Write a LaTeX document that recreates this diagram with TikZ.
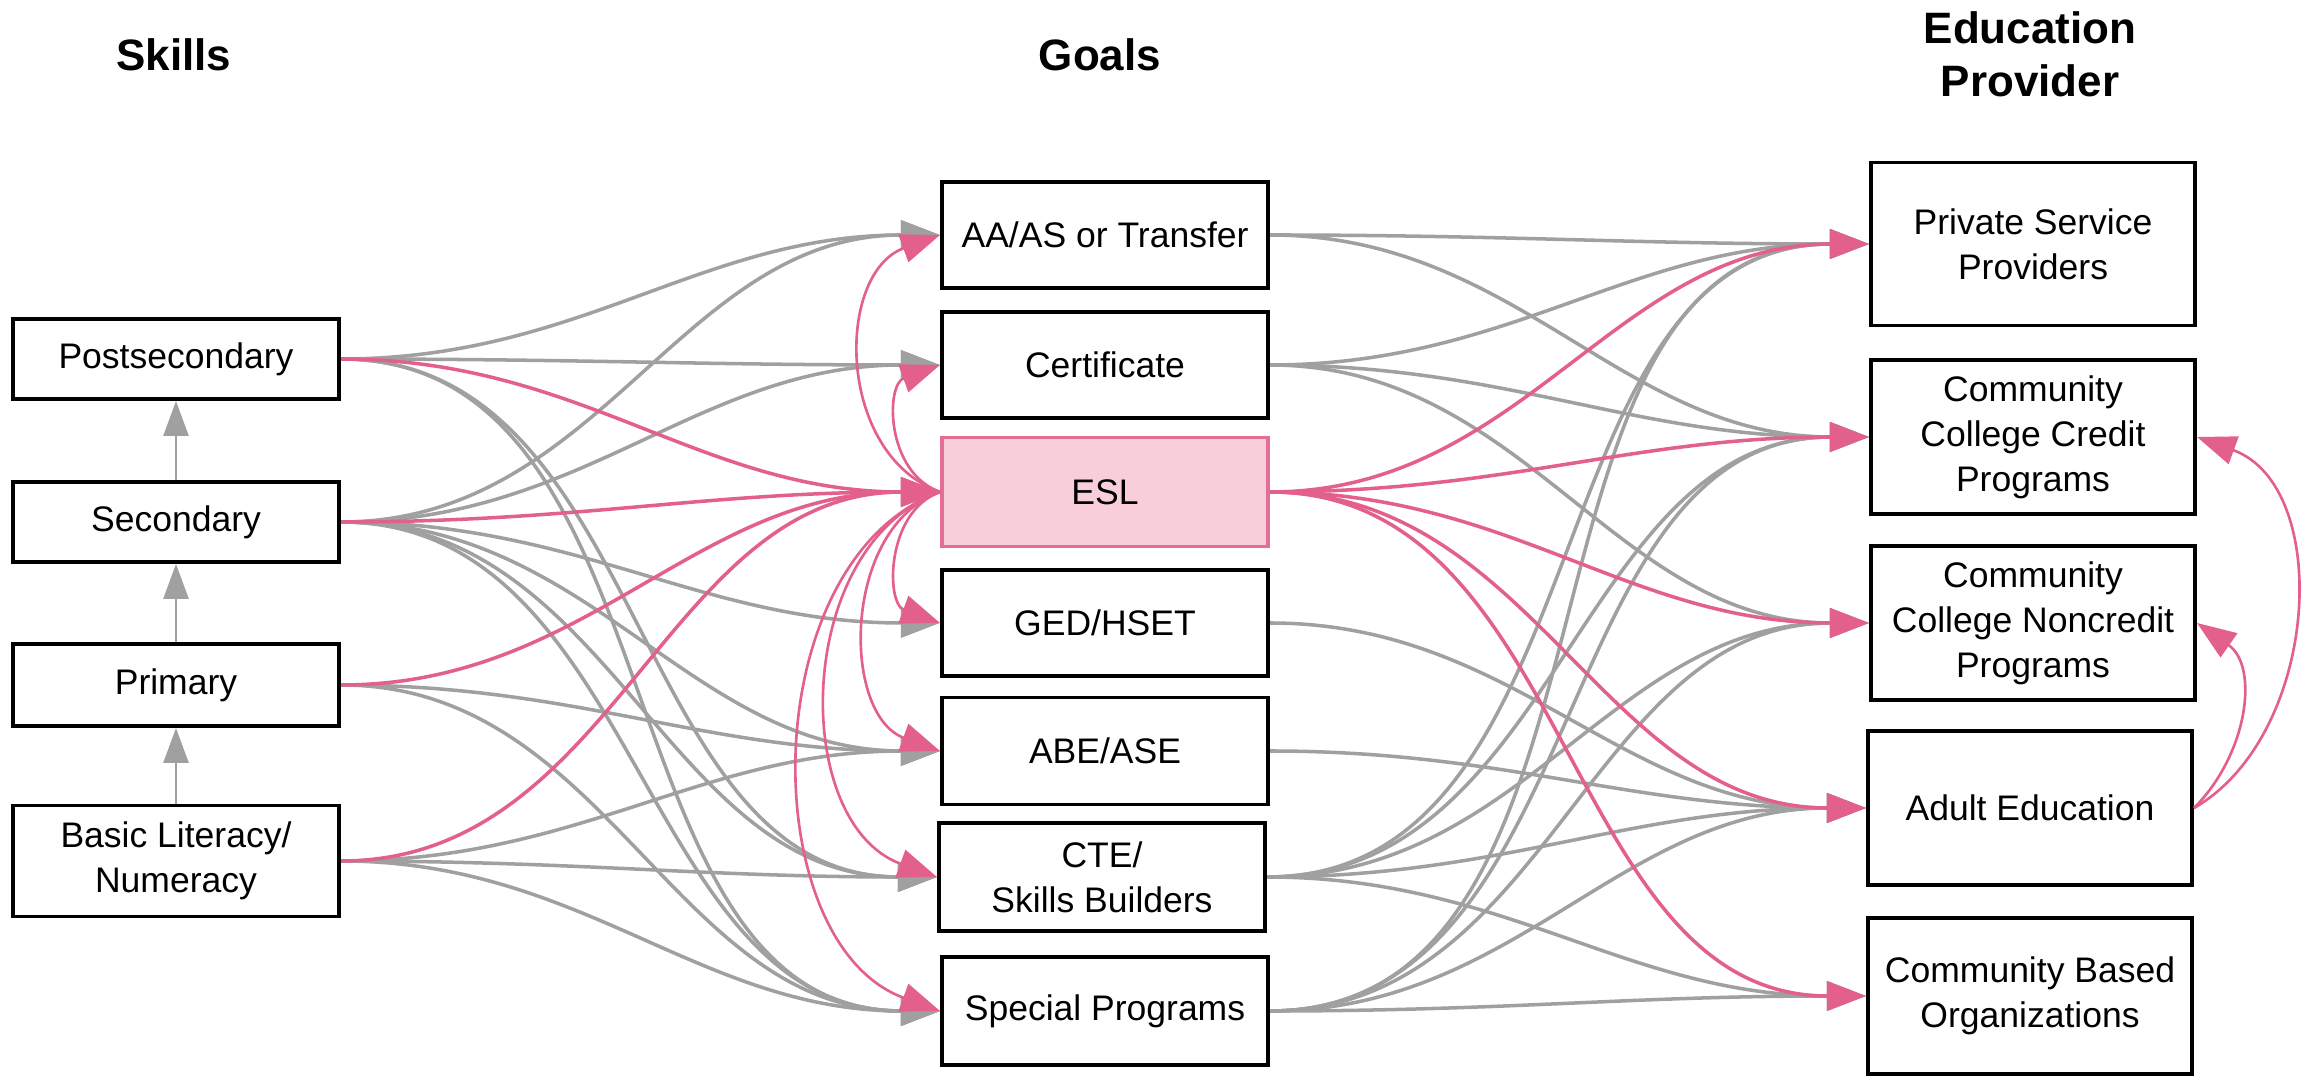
\documentclass[tikz,border=0pt]{standalone}
\usepackage{fontspec}
\setmainfont{Liberation Sans}
\usetikzlibrary{arrows.meta}
\definecolor{lgray}{RGB}{160,160,160}
\definecolor{pinkc}{RGB}{226,96,139}
\definecolor{eslfill}{RGB}{249,206,219}
\definecolor{eslborder}{RGB}{228,110,148}
\begin{document}
\begin{tikzpicture}[x=0.01cm,y=-0.01cm,
  box/.style={draw=black,line width=1.1pt,fill=white,minimum width=3.26cm,inner sep=0pt,align=center,font=\fontsize{10.1}{12.8}\selectfont},
  hdr/.style={font=\fontsize{12.5}{15}\selectfont\bfseries,align=center},
  tipst/.style={-{Triangle[length=3.9mm,width=2.9mm]}},
  gline/.style={draw=lgray,line width=1pt,tipst},
  pline/.style={draw=pinkc,line width=1pt,tipst},
  parc/.style={draw=pinkc,line width=0.75pt,tipst},
  vline/.style={draw=lgray,line width=0.75pt,-{Triangle[length=3.5mm,width=2.5mm]}}]

\useasboundingbox (0,0) rectangle (2318,1077);

% headers
\node[hdr] (hskills) at (174,55) {Skills};
\node[hdr] (hgoals) at (1100,55) {Goals};
\node[hdr] (hprov) at (2030,54) {Education\\Provider};

% skills
\node[box,minimum height=0.80cm] (post) at (176,359) {Postsecondary};
\node[box,minimum height=0.80cm] (sec) at (176,522) {Secondary};
\node[box,minimum height=0.82cm] (prim) at (176,685) {Primary};
\node[box,minimum height=1.11cm] (basic) at (176,861) {Basic Literacy/\\Numeracy};

% goals
\node[box,minimum height=1.06cm] (aa) at (1105,235) {AA/AS or Transfer};
\node[box,minimum height=1.06cm] (cert) at (1105,365) {Certificate};
\node[box,minimum height=1.09cm,draw=eslborder,fill=eslfill] (esl) at (1105,492) {ESL};
\node[box,minimum height=1.06cm] (ged) at (1105,623) {GED/HSET};
\node[box,minimum height=1.07cm] (abe) at (1105,751) {ABE/ASE};
\node[box,minimum height=1.08cm] (cte) at (1102,877) {CTE/\\Skills Builders};
\node[box,minimum height=1.08cm] (spec) at (1105,1011) {Special Programs};

% providers
\node[box,minimum width=3.24cm,minimum height=1.63cm] (priv) at (2033,244) {Private Service\\Providers};
\node[box,minimum width=3.24cm,minimum height=1.54cm] (ccc) at (2033,437) {Community\\College Credit\\Programs};
\node[box,minimum width=3.24cm,minimum height=1.54cm] (ccn) at (2033,623) {Community\\College Noncredit\\Programs};
\node[box,minimum width=3.24cm,minimum height=1.54cm] (adult) at (2030,808) {Adult Education};
\node[box,minimum width=3.24cm,minimum height=1.56cm] (cbo) at (2030,996) {Community Based\\Organizations};

% vertical skill arrows
\draw[vline] (sec.north) -- (post.south);
\draw[vline] (prim.north) -- (sec.south);
\draw[vline] (basic.north) -- (prim.south);

% gray: skills -> goals
\draw[gline] (post.east) to[out=0,in=180] (aa.west);
\draw[gline] (post.east) to[out=0,in=180] (cert.west);
\draw[gline] (post.east) to[out=0,in=180] (cte.west);
\draw[gline] (post.east) to[out=0,in=180] (spec.west);
\draw[gline] (sec.east) to[out=0,in=180] (aa.west);
\draw[gline] (sec.east) to[out=0,in=180] (cert.west);
\draw[gline] (sec.east) to[out=0,in=180] (ged.west);
\draw[gline] (sec.east) to[out=0,in=180] (abe.west);
\draw[gline] (sec.east) to[out=0,in=180] (cte.west);
\draw[gline] (sec.east) to[out=0,in=180] (spec.west);
\draw[gline] (prim.east) to[out=0,in=180] (abe.west);
\draw[gline] (prim.east) to[out=0,in=180] (spec.west);
\draw[gline] (basic.east) to[out=0,in=180] (abe.west);
\draw[gline] (basic.east) to[out=0,in=180] (cte.west);
\draw[gline] (basic.east) to[out=0,in=180] (spec.west);

% gray: goals -> providers
\draw[gline] (aa.east) to[out=0,in=180] (priv.west);
\draw[gline] (aa.east) to[out=0,in=180] (ccc.west);
\draw[gline] (cert.east) to[out=0,in=180] (priv.west);
\draw[gline] (cert.east) to[out=0,in=180] (ccc.west);
\draw[gline] (cert.east) to[out=0,in=180] (ccn.west);
\draw[gline] (ged.east) to[out=0,in=180] (adult.west);
\draw[gline] (abe.east) to[out=0,in=180] (adult.west);
\draw[gline] (cte.east) to[out=0,in=180] (priv.west);
\draw[gline] (cte.east) to[out=0,in=180] (ccc.west);
\draw[gline] (cte.east) to[out=0,in=180] (ccn.west);
\draw[gline] (cte.east) to[out=0,in=180] (adult.west);
\draw[gline] (cte.east) to[out=0,in=180] (cbo.west);
\draw[gline] (spec.east) to[out=0,in=180] (priv.west);
\draw[gline] (spec.east) to[out=0,in=180] (ccc.west);
\draw[gline] (spec.east) to[out=0,in=180] (ccn.west);
\draw[gline] (spec.east) to[out=0,in=180] (adult.west);
\draw[gline] (spec.east) to[out=0,in=180] (cbo.west);

% pink: skills -> ESL
\draw[pline] (post.east) to[out=0,in=180] (esl.west);
\draw[pline] (sec.east) to[out=0,in=180] (esl.west);
\draw[pline] (prim.east) to[out=0,in=180] (esl.west);
\draw[pline] (basic.east) to[out=0,in=180] (esl.west);

% pink: ESL -> other goals
\draw[parc] (esl.west) to[out=160,in=200,looseness=1.11] (aa.west);
\draw[parc] (esl.west) to[out=160,in=200,looseness=1.17] (cert.west);
\draw[parc] (esl.west) to[out=200,in=160,looseness=1.13] (ged.west);
\draw[parc] (esl.west) to[out=200,in=160,looseness=1.04] (abe.west);
\draw[parc] (esl.west) to[out=200,in=160,looseness=1.04] (cte.west);
\draw[parc] (esl.west) to[out=200,in=160,looseness=0.98] (spec.west);

% pink: ESL -> providers
\draw[pline] (esl.east) to[out=0,in=180] (priv.west);
\draw[pline] (esl.east) to[out=0,in=180] (ccc.west);
\draw[pline] (esl.east) to[out=0,in=180] (ccn.west);
\draw[pline] (esl.east) to[out=0,in=180] (adult.west);
\draw[pline] (esl.east) to[out=0,in=180] (cbo.west);

% pink: Adult Education -> CC programs
\draw[parc] (adult.east) to[out=30,in=-20,looseness=1.0] (ccc.east);
\draw[parc] (adult.east) to[out=45,in=-35,looseness=1.05] (ccn.east);
\end{tikzpicture}
\end{document}
